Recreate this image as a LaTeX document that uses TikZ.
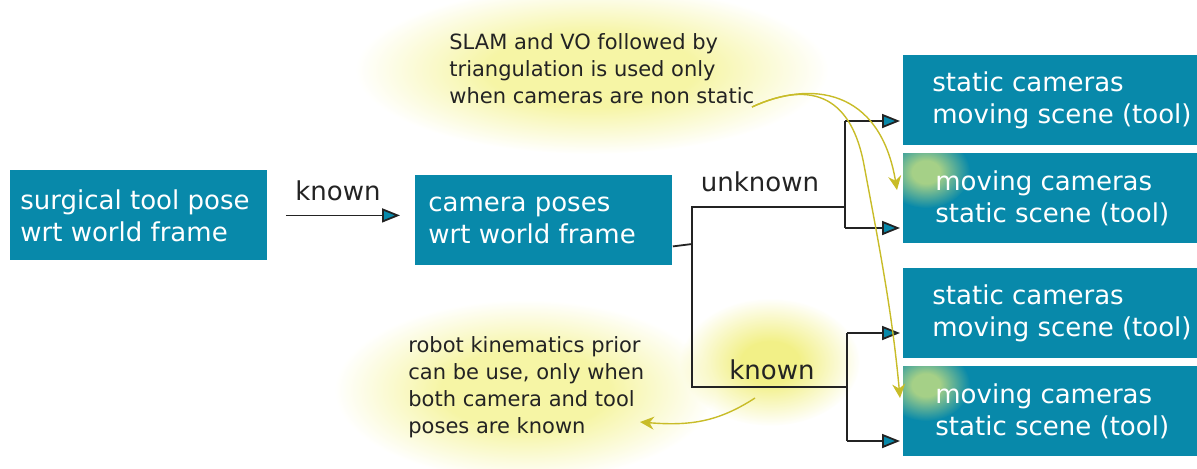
\documentclass[tikz,border=0pt]{standalone}
\usepackage{fontspec}
\setmainfont{DejaVu Sans}
\usetikzlibrary{arrows.meta,fadings}
\definecolor{teal1}{RGB}{8,137,170}
\definecolor{glowy}{RGB}{246,245,165}
\definecolor{glowk}{RGB}{242,240,135}
\definecolor{curvey}{RGB}{200,188,40}
\definecolor{greenglow}{RGB}{165,208,135}
\definecolor{linec}{RGB}{35,35,35}
\pgfdeclareradialshading{glowfadeshade}{\pgfpoint{0bp}{0bp}}{color(0bp)=(pgftransparent!0); color(11bp)=(pgftransparent!0); color(25bp)=(pgftransparent!100); color(50bp)=(pgftransparent!100)}
\pgfdeclarefading{glowfade}{\pgfuseshading{glowfadeshade}}
\pgfdeclareradialshading{glowfadeshadek}{\pgfpoint{0bp}{0bp}}{color(0bp)=(pgftransparent!0); color(8bp)=(pgftransparent!0); color(25bp)=(pgftransparent!100); color(50bp)=(pgftransparent!100)}
\pgfdeclarefading{glowfadek}{\pgfuseshading{glowfadeshadek}}
\begin{document}
\begin{tikzpicture}[x=0.5pt,y=-0.5pt,
  box/.style={fill=teal1, draw=none, anchor=north west, inner sep=0pt},
  smallbox/.style={box, minimum width=128.5pt, minimum height=45pt},
  rbox/.style={box, minimum width=147pt, minimum height=45pt},
  boxtext/.style={text=white, font=\fontsize{13}{16}\selectfont, align=left, anchor=west, inner sep=0pt},
  lbl/.style={font=\fontsize{13}{16}\selectfont, text=linec, inner sep=0pt},
  note/.style={font=\fontsize{10.5}{13.5}\selectfont, text=linec, align=left, anchor=west, inner sep=0pt},
  conn/.style={draw=linec, line width=0.9pt},
  arr/.style={conn, -{Triangle[length=9pt,width=7pt,fill=teal1]}},
  hint/.style={draw=curvey, line width=0.7pt, -{Stealth[length=7pt,width=6.5pt]}}
]
\useasboundingbox (0,0) rectangle (1197,468);
% glows
\fill[glowy, path fading=glowfade] (592,70) ellipse [x radius=118pt, y radius=42pt];
\fill[glowy, path fading=glowfade] (525,390) ellipse [x radius=95pt, y radius=45pt];
\fill[glowk, path fading=glowfadek] (770,362) ellipse [x radius=45pt, y radius=32pt];

% boxes
\node[smallbox] (b1) at (10,170) {};
\node[smallbox] (b2) at (415,175) {};
\node[rbox] (r1) at (903,55) {};
\node[rbox] (r2) at (903,153) {};
\node[rbox] (r3) at (903,268) {};
\node[rbox] (r4) at (903,366) {};

% green glows on boxes
\begin{scope}
  \clip (r2.north west) rectangle (r2.south east);
  \fill[greenglow, path fading=glowfadek] (926,172) ellipse [x radius=22pt, y radius=18pt];
\end{scope}
\begin{scope}
  \clip (r4.north west) rectangle (r4.south east);
  \fill[greenglow, path fading=glowfadek] (926,385) ellipse [x radius=22pt, y radius=18pt];
\end{scope}

% box texts
\node[boxtext] (b1t) at ([xshift=5pt]b1.west) {surgical tool pose\\wrt world frame};
\node[boxtext] (b2t) at ([xshift=6.5pt]b2.west) {camera poses\\wrt world frame};
\node[boxtext] (r1t) at ([xshift=14.5pt]r1.west) {static cameras\\moving scene (tool)};
\node[boxtext] (r2t) at ([xshift=16pt]r2.west) {moving cameras\\static scene (tool)};
\node[boxtext] (r3t) at ([xshift=14.5pt]r3.west) {static cameras\\moving scene (tool)};
\node[boxtext] (r4t) at ([xshift=16pt]r4.west) {moving cameras\\static scene (tool)};

% labels
\node[lbl] (lk1) at (338,191) {known};
\node[lbl] (lu) at (760,182) {unknown};
\node[lbl] (lk2) at (772,370) {known};

% notes
\node[note] (n1) at (449,69) {SLAM and VO followed by\\triangulation is used only\\when cameras are non static};
\node[note] (n2) at (408,387) {robot kinematics prior\\can be use, only when\\both camera and tool\\poses are known};

% connectors
\draw[arr, shorten <=9pt, shorten >=7.5pt] (b1.east) -- (b1.east -| b2.west);
\coordinate (s) at ([yshift=-13pt]b2.east);
\coordinate (j) at (692,244);
\coordinate (vt) at (692,207);
\coordinate (vb) at (692,387);
\coordinate (ut) at (845,207);
\coordinate (kt) at (847,387);
\coordinate (f1a) at (845,121);
\coordinate (f1b) at (845,228);
\coordinate (f2a) at (847,333);
\coordinate (f2b) at (847,441);
\draw[conn] (s) -- (j);
\draw[conn] (ut) -- (vt) -- (vb) -- (kt);
\draw[conn] (f1a) -- (f1b);
\draw[conn] (f2a) -- (f2b);
\draw[arr, shorten >=1.5pt] (f1a) -- (f1a -| r1.west);
\draw[arr, shorten >=1.5pt] (f1b) -- (f1b -| r2.west);
\draw[arr, shorten >=1.5pt] (f2a) -- (f2a -| r3.west);
\draw[arr, shorten >=1.5pt] (f2b) -- (f2b -| r4.west);

% hint curves
\coordinate (c0) at (752,107);
\coordinate (c1) at (897,190);
\coordinate (c2) at (900,398);
\coordinate (c3) at (755,398);
\coordinate (c4) at (640,422);
\draw[hint] (c0) .. controls (810,80) and (880,88) .. (c1);
\draw[hint] (c0) .. controls (815,78) and (852,100) .. (864,165) .. controls (878,240) and (892,310) .. (c2);
\draw[hint] (c3) .. controls (718,422) and (690,426) .. (c4);
\end{tikzpicture}
\end{document}
